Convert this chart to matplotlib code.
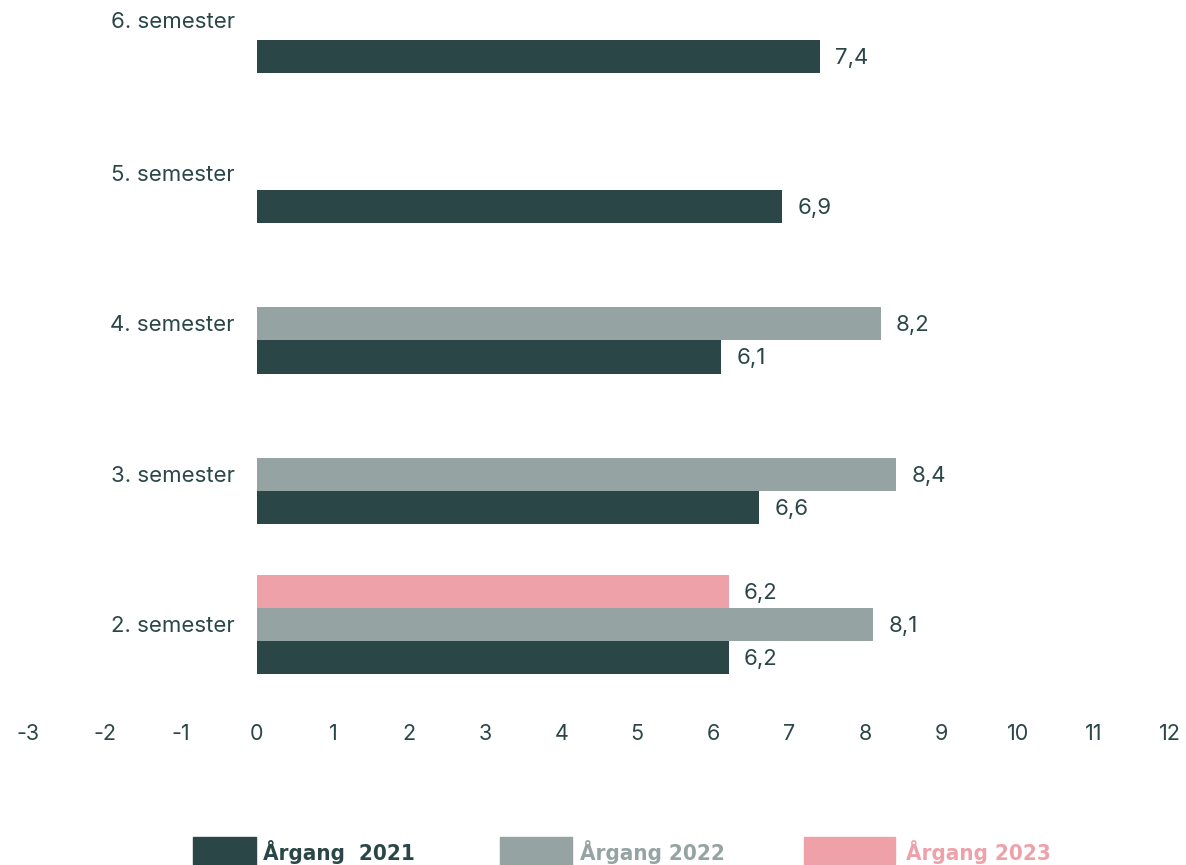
import numpy as np
import matplotlib
matplotlib.use("Agg")
import matplotlib.pyplot as plt
from matplotlib.patches import Rectangle
from matplotlib import font_manager

categories = ["2. semester", "3. semester", "4. semester", "5. semester", "6. semester"]
argang_2021 = [6.2, 6.6, 6.1, 6.9, 7.4]
argang_2022 = [8.1, 8.4, 8.2, np.nan, np.nan]
argang_2023 = [6.2, np.nan, np.nan, np.nan, np.nan]
series_names = ["Årgang  2021", "Årgang 2022", "Årgang 2023"]
x_ticks = list(range(-3, 13))

DARK = "#2A4647"
GRAY = "#95A3A2"
PINK = "#EFA1AA"
colors = [DARK, GRAY, PINK]

plt.rcParams['font.family'] = ['Inter', 'DejaVu Sans']

fig = plt.figure(figsize=(11.86, 8.65), dpi=100)
W, H = 1186, 865
ax_left, ax_right = 28.5 / W, 1170 / W
ax_top_px, ax_bot_px = 8, 715
ax = fig.add_axes([ax_left, 1 - ax_bot_px / H, ax_right - ax_left, (ax_bot_px - ax_top_px) / H])

y = np.arange(len(categories))
h = 0.22
offsets = [-h, 0, h]
for vals, off, c in zip([argang_2021, argang_2022, argang_2023], offsets, colors):
    vals = np.array(vals, dtype=float)
    mask = ~np.isnan(vals)
    ax.barh(y[mask] + off, vals[mask], height=h, color=c, edgecolor='none')
    for yy, v in zip(y[mask] + off, vals[mask]):
        ax.annotate(f"{v:.1f}".replace('.', ','), xy=(v, yy), xytext=(11, -1),
                    textcoords='offset points', va='center', ha='left',
                    fontsize=16, color=DARK)

ax.set_xlim(-3, 12)
ax.set_ylim(-0.6, 4.1)
ax.set_xticks(x_ticks)
ax.set_xticklabels([str(t) for t in x_ticks])
ax.set_yticks([])
for yy, cat in zip(y, categories):
    ax.text(-0.29, yy - 0.01 + (0.02 if yy == len(categories) - 1 else 0), cat,
            ha='right', va='center', fontsize=16, color=DARK)
ax.tick_params(axis='x', length=0, pad=6.5, labelsize=15.5, labelcolor=DARK)
for s in ax.spines.values():
    s.set_visible(False)

leg_font = font_manager.FontProperties(family='DejaVu Sans', weight='bold',
                                       stretch='condensed', size=16)

leg_patches = [(193, 63), (500, 72), (804, 91)]
leg_text_x = [263, 580, 906]
for (px, pw), tx, name, c in zip(leg_patches, leg_text_x, series_names, colors):
    fig.patches.append(Rectangle((px / W, 0), pw / W, 28 / H, transform=fig.transFigure,
                                 color=c, zorder=1))
    fig.text(tx / W, 1 - 852 / H, name, ha='left', va='center', fontproperties=leg_font,
             color=c)

fig.savefig("out.png", dpi=100)
